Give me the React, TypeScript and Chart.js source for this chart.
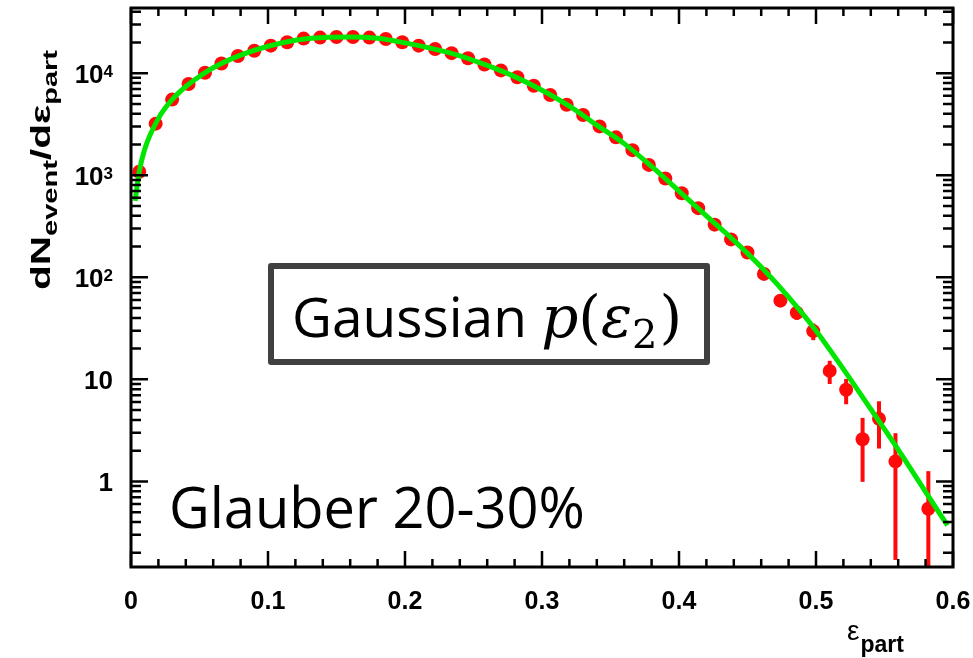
import React, { useEffect, useRef } from 'react';
import { Chart, registerables } from 'chart.js';

Chart.register(...registerables);

// ε_part bin centres (bin width 0.012)
const binCenters = [
  0.006, 0.018, 0.030, 0.042, 0.054, 0.066, 0.078, 0.090, 0.102, 0.114,
  0.126, 0.138, 0.150, 0.162, 0.174, 0.186, 0.198, 0.210, 0.222, 0.234,
  0.246, 0.258, 0.270, 0.282, 0.294, 0.306, 0.318, 0.330, 0.342, 0.354,
  0.366, 0.378, 0.390, 0.402, 0.414, 0.426, 0.438, 0.450, 0.462, 0.474,
  0.486, 0.498, 0.510, 0.522, 0.534, 0.546, 0.558, 0.570, 0.582, 0.594,
];

// dN_event/dε_part per bin (null = empty bin)
const eventCounts: (number | null)[] = [
  1082, 3200, 5510, 7820, 10100, 12440, 14750, 16560, 18600, 20100,
  21800, 22300, 22600, 22600, 22300, 21600, 20100, 18600, 17230, 15700,
  13990, 12150, 10640, 9110, 7520, 6100, 4910, 3890, 3010, 2350,
  1760, 1262, 929, 666, 476, 328, 235, 175, 108, 59,
  45, 29.7, 12.1, 7.9, 2.59, 4.1, 1.57, null, 0.54, null,
];

// statistical uncertainty per bin
const countErrors: (number | null)[] = [
  33, 57, 74, 88, 100, 112, 121, 129, 136, 142,
  148, 149, 150, 150, 149, 147, 142, 136, 131, 125,
  118, 110, 103, 95, 87, 78, 70, 62, 55, 48,
  42, 36, 30, 26, 22, 18, 15, 13, 10, 7.7,
  6.7, 5.5, 3.1, 2.2, 1.6, 2.0, 1.4, null, 0.72, null,
];

// Gaussian p(ε2) fit curve
const fitX = [
  0.003, 0.006, 0.01, 0.02, 0.03, 0.04, 0.05, 0.06, 0.08, 0.10,
  0.12, 0.14, 0.16, 0.18, 0.20, 0.22, 0.24, 0.26, 0.28, 0.30,
  0.32, 0.34, 0.36, 0.38, 0.40, 0.42, 0.44, 0.46, 0.48, 0.50,
  0.52, 0.54, 0.56, 0.58, 0.596,
];
const fitY = [
  560, 1080, 1800, 3600, 5500, 7400, 9300, 11300, 15000, 18350,
  21000, 22350, 22600, 21950, 19800, 17400, 14800, 11900, 9250, 6800,
  4750, 3100, 2040, 1220, 700, 400, 230, 126, 64, 30,
  12.6, 5.1, 2.05, 0.79, 0.37,
];

const xTickValues = [0, 0.1, 0.2, 0.3, 0.4, 0.5, 0.6];
const xTickLabels = ['0', '0.1', '0.2', '0.3', '0.4', '0.5', '0.6'];

const yTickValues = [1, 10, 100, 1000, 10000];
const yTickBases = ['1', '10', '10', '10', '10'];
const yTickExponents = ['', '', '2', '3', '4'];

const X_MIN = 0;
const X_MAX = 0.6;
const Y_MIN = 0.145;
const Y_MAX = 43500;

const LABEL_FONT = '"Liberation Sans", Arial, Helvetica, sans-serif';
const RED = '#ff0a0a';
const GREEN = '#00e600';

const errorBars = {
  id: 'errorBars',
  beforeDatasetsDraw(chart: any) {
    const { ctx, chartArea: a, scales } = chart;
    const x = scales.x;
    const y = scales.y;
    ctx.save();
    ctx.beginPath();
    ctx.rect(a.left, a.top, a.right - a.left, a.bottom - a.top);
    ctx.clip();
    ctx.strokeStyle = RED;
    ctx.lineWidth = 4;
    binCenters.forEach((bx, i) => {
      const v = eventCounts[i];
      const e = countErrors[i];
      if (v == null || e == null) return;
      const px = x.getPixelForValue(bx);
      const hi = y.getPixelForValue(v + e);
      const lo = v - e > 0 ? y.getPixelForValue(v - e) : a.bottom + 5;
      ctx.beginPath();
      ctx.moveTo(px, hi);
      ctx.lineTo(px, lo);
      ctx.stroke();
    });
    ctx.restore();
  },
};

const axisDecor = {
  id: 'axisDecor',
  afterDatasetsDraw(chart: any) {
    const { ctx, chartArea: a, scales } = chart;
    const x = scales.x;
    const y = scales.y;
    ctx.save();
    ctx.strokeStyle = '#000';
    ctx.lineWidth = 2.5;
    ctx.lineCap = 'butt';
    // x ticks every 0.02, long ones every 0.1, on bottom and top edges
    for (let i = 0; i <= 30; i++) {
      const px = x.getPixelForValue(i * 0.02);
      const len = i % 5 === 0 ? 16 : 8;
      ctx.beginPath();
      ctx.moveTo(px, a.bottom);
      ctx.lineTo(px, a.bottom - len);
      ctx.moveTo(px, a.top);
      ctx.lineTo(px, a.top + len);
      ctx.stroke();
    }
    // log ticks on left and right edges
    for (let e = -1; e <= 4; e++) {
      for (let m = 1; m <= 9; m++) {
        const v = m * Math.pow(10, e);
        if (v < Y_MIN || v > Y_MAX) continue;
        const py = y.getPixelForValue(v);
        const len = m === 1 ? 17 : 10;
        ctx.beginPath();
        ctx.moveTo(a.left, py);
        ctx.lineTo(a.left + len, py);
        ctx.moveTo(a.right, py);
        ctx.lineTo(a.right - len, py);
        ctx.stroke();
      }
    }
    ctx.lineWidth = 3;
    ctx.strokeRect(a.left, a.top, a.right - a.left, a.bottom - a.top);
    ctx.restore();
  },
  afterDraw(chart: any) {
    const { ctx, scales } = chart;
    const y = scales.y;
    ctx.save();
    ctx.fillStyle = '#000';

    // y tick labels with exponents
    const right = 113;
    yTickValues.forEach((v, i) => {
      const py = y.getPixelForValue(v);
      ctx.textAlign = 'right';
      ctx.textBaseline = 'alphabetic';
      let w = 0;
      if (yTickExponents[i]) {
        ctx.font = `bold 17px ${LABEL_FONT}`;
        w = ctx.measureText(yTickExponents[i]).width;
        ctx.fillText(yTickExponents[i], right, py + 3.5);
      }
      ctx.font = `bold 26px ${LABEL_FONT}`;
      ctx.fillText(yTickBases[i], right - w, py + 10);
    });

    // y axis title, read bottom to top
    ctx.textAlign = 'left';
    ctx.textBaseline = 'alphabetic';
    const parts: [string, number, number][] = [
      ['dN', 28, 0],
      ['event', 20, 7],
      ['/d\u03b5', 28, 0],
      ['part', 20, 7],
    ];
    let total = 0;
    const widths = parts.map(([t, s]) => {
      ctx.font = `bold ${s}px ${LABEL_FONT}`;
      const w = ctx.measureText(t).width;
      total += w;
      return w;
    });
    const stretch = 240 / total;
    ctx.save();
    ctx.translate(50, 290);
    ctx.rotate(-Math.PI / 2);
    ctx.scale(stretch, 1);
    let cx = 0;
    parts.forEach(([t, s, dy], i) => {
      ctx.font = `bold ${s}px ${LABEL_FONT}`;
      ctx.fillText(t, cx, dy);
      cx += widths[i];
    });
    ctx.restore();

    // x axis title
    ctx.font = `28px ${LABEL_FONT}`;
    ctx.fillText('\u03b5', 847, 640);
    const ew = ctx.measureText('\u03b5').width;
    ctx.font = `bold 23px ${LABEL_FONT}`;
    ctx.fillText('part', 847 + ew + 1, 652);

    // boxed label
    ctx.fillStyle = '#fff';
    ctx.fillRect(271, 266, 436, 96);
    ctx.strokeStyle = '#404040';
    ctx.lineWidth = 6;
    ctx.lineJoin = 'round';
    ctx.strokeRect(271, 266, 436, 96);
    ctx.fillStyle = '#000';
    const base = 337;
    let tx = 292;
    ctx.font = '55px "Open Sans", sans-serif';
    ctx.fillText('Gaussian', tx, base);
    tx += ctx.measureText('Gaussian ').width;
    ctx.font = 'italic 58px "DejaVu Serif", serif';
    ctx.fillText('p', tx, base);
    tx += ctx.measureText('p').width;
    ctx.font = '58px "DejaVu Serif", serif';
    ctx.fillText('(', tx, base);
    tx += ctx.measureText('(').width;
    ctx.font = 'italic 58px "DejaVu Serif", serif';
    ctx.fillText('\u03b5', tx, base);
    tx += ctx.measureText('\u03b5').width;
    ctx.font = '40px "DejaVu Serif", serif';
    ctx.fillText('2', tx, base + 11);
    tx += ctx.measureText('2').width + 2;
    ctx.font = '58px "DejaVu Serif", serif';
    ctx.fillText(')', tx, base);

    // centrality label
    ctx.font = '56px "Open Sans", sans-serif';
    ctx.fillText('Glauber 20-30%', 169, 528);
    ctx.restore();
  },
};

export default function App() {
  const canvasRef = useRef<HTMLCanvasElement | null>(null);

  useEffect(() => {
    const canvas = canvasRef.current;
    if (!canvas) return;
    const points = binCenters
      .map((bx, i) => ({ x: bx, y: eventCounts[i] }))
      .filter((p) => p.y != null);
    const curve = fitX.map((fx, i) => ({ x: fx, y: fitY[i] }));

    const chart = new Chart(canvas, {
      type: 'line',
      data: {
        datasets: [
          {
            label: 'fit',
            data: curve,
            borderColor: GREEN,
            borderWidth: 5,
            pointRadius: 0,
            cubicInterpolationMode: 'monotone',
            fill: false,
            order: 0,
          },
          {
            label: 'events',
            data: points as any,
            showLine: false,
            pointRadius: 7,
            pointBackgroundColor: RED,
            pointBorderWidth: 0,
            borderColor: RED,
            order: 1,
          },
        ],
      },
      options: {
        responsive: false,
        animation: false,
        events: [],
        layout: { padding: { top: 8, right: 20, left: 0, bottom: 0 } },
        plugins: {
          legend: { display: false },
          tooltip: { enabled: false },
          title: { display: false },
        },
        scales: {
          x: {
            type: 'linear',
            min: X_MIN,
            max: X_MAX,
            grid: { display: false, drawTicks: false },
            border: { display: false },
            afterBuildTicks: (scale: any) => {
              scale.ticks = xTickValues.map((v) => ({ value: v }));
            },
            afterFit: (scale: any) => {
              scale.height = 91;
              scale.paddingLeft = 0;
              scale.paddingRight = 0;
            },
            ticks: {
              autoSkip: false,
              maxRotation: 0,
              padding: 20,
              color: '#000',
              font: { family: LABEL_FONT, size: 25, weight: 'bold' },
              callback: (_v: any, i: number) => xTickLabels[i],
            },
          },
          y: {
            type: 'logarithmic',
            min: Y_MIN,
            max: Y_MAX,
            grid: { display: false, drawTicks: false },
            border: { display: false },
            ticks: { display: false },
            afterFit: (scale: any) => {
              scale.width = 131;
              scale.paddingTop = 0;
              scale.paddingBottom = 0;
            },
          },
        },
      },
      plugins: [errorBars, axisDecor],
    } as any);

    return () => chart.destroy();
  }, []);

  return (
    <div
      style={{
        position: 'absolute',
        left: 0,
        top: 0,
        width: 973,
        height: 658,
        background: '#fff',
      }}
    >
      <canvas ref={canvasRef} width={973} height={658} style={{ display: 'block' }} />
    </div>
  );
}
